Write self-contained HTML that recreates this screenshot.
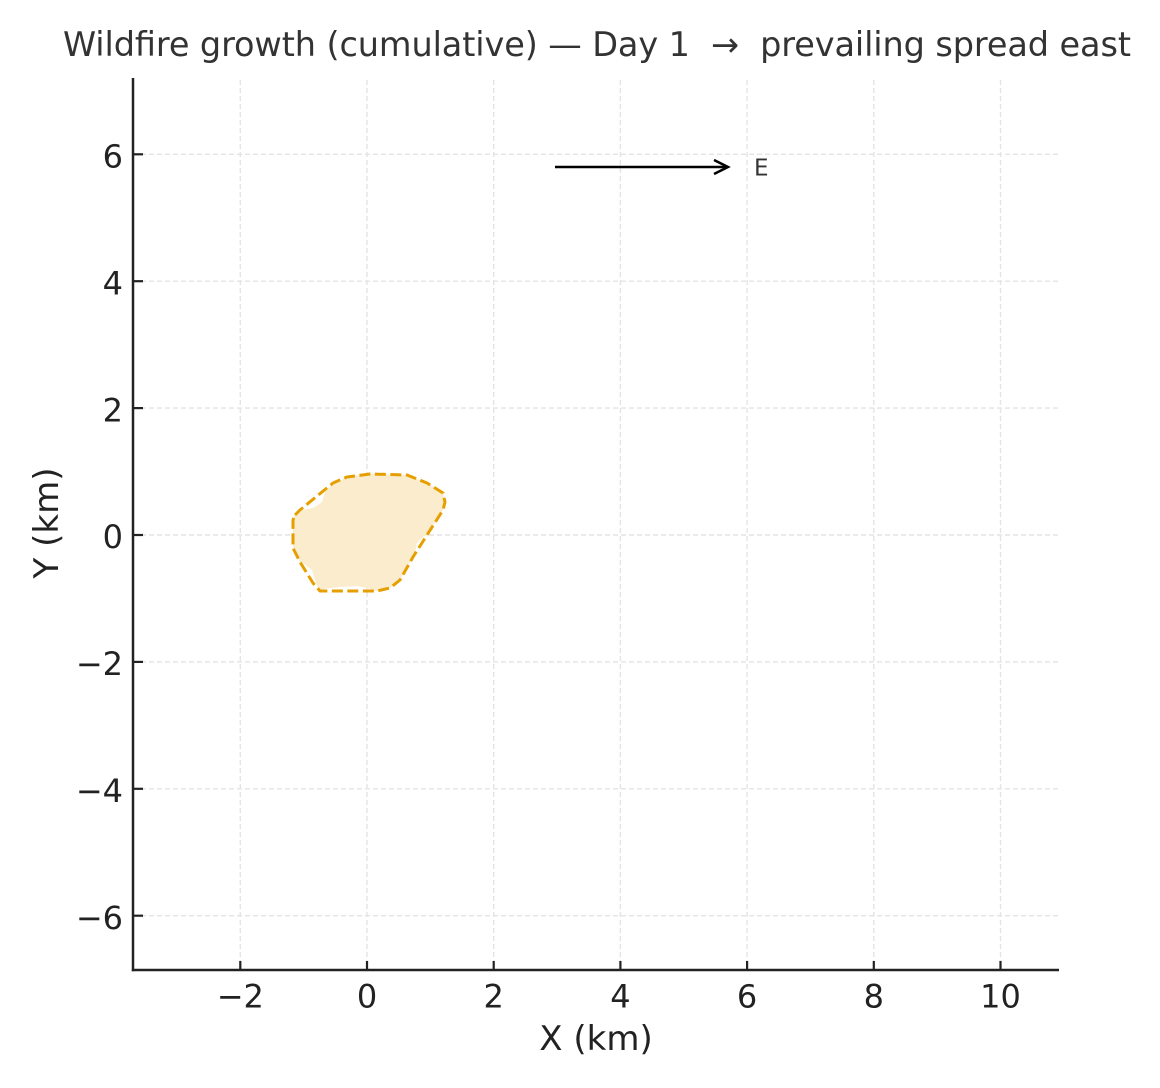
<!DOCTYPE html>
<html><head><meta charset="utf-8"><style>
html,body{margin:0;padding:0;background:#fff;}
svg{display:block;font-family:"DejaVu Sans","Liberation Sans",sans-serif;}
</style></head><body>
<svg width="1160" height="1088" viewBox="0 0 1160 1088" xmlns="http://www.w3.org/2000/svg">
<rect width="1160" height="1088" fill="#ffffff"/>
<!-- grid -->
<g stroke="#e4e4e4" stroke-width="1.4" stroke-dasharray="5,3" fill="none">
<line x1="240.3" y1="80" x2="240.3" y2="970"/>
<line x1="367" y1="80" x2="367" y2="970"/>
<line x1="493.7" y1="80" x2="493.7" y2="970"/>
<line x1="620.4" y1="80" x2="620.4" y2="970"/>
<line x1="747.1" y1="80" x2="747.1" y2="970"/>
<line x1="873.8" y1="80" x2="873.8" y2="970"/>
<line x1="1000.5" y1="80" x2="1000.5" y2="970"/>
<line x1="133" y1="154.3" x2="1058" y2="154.3"/>
<line x1="133" y1="281.2" x2="1058" y2="281.2"/>
<line x1="133" y1="408.1" x2="1058" y2="408.1"/>
<line x1="133" y1="535" x2="1058" y2="535"/>
<line x1="133" y1="661.9" x2="1058" y2="661.9"/>
<line x1="133" y1="788.8" x2="1058" y2="788.8"/>
<line x1="133" y1="915.7" x2="1058" y2="915.7"/>
</g>
<!-- fire fill -->
<polygon fill="rgb(250,236,204)" points="295,515 303,510 313,508 322,502 325,492 333,484 347,477 370,474 407,475 427,483 443,493 445,502 443,510 427,535 423,537 417,543 415,552 413,557 400,580 390,588 377,591 367,588 357,586 340,587 323,589 320,591 318,588 315,580 312,570 303,563 300,562 293,548 293,520"/>
<!-- fire outline -->
<polygon fill="none" stroke="#e69f00" stroke-width="3" stroke-dasharray="11,4.5" stroke-linejoin="round" points="295,515 300,510 333,483 347,477 370,474 407,475 427,483 443,493 445,502 443,510 427,535 413,557 400,580 390,588 377,591 320,591 313,583 300,562 293,548 293,520"/>
<!-- arrow -->
<line x1="555" y1="167" x2="727" y2="167" stroke="#000" stroke-width="2.5"/>
<polyline points="714,160 728,167 714,174" fill="none" stroke="#000" stroke-width="2.5" stroke-linejoin="miter"/>
<text x="754" y="175.5" font-size="23" fill="#333">E</text>
<!-- spines -->
<g stroke="#222" stroke-width="2.5" fill="none">
<line x1="133" y1="78" x2="133" y2="971.2"/>
<line x1="131.8" y1="970" x2="1059" y2="970"/>
</g>
<!-- ticks (inward) -->
<g stroke="#222" stroke-width="2.2">
<line x1="240.3" y1="970" x2="240.3" y2="961"/>
<line x1="367" y1="970" x2="367" y2="961"/>
<line x1="493.7" y1="970" x2="493.7" y2="961"/>
<line x1="620.4" y1="970" x2="620.4" y2="961"/>
<line x1="747.1" y1="970" x2="747.1" y2="961"/>
<line x1="873.8" y1="970" x2="873.8" y2="961"/>
<line x1="1000.5" y1="970" x2="1000.5" y2="961"/>
<line x1="133" y1="154.3" x2="143" y2="154.3"/>
<line x1="133" y1="281.2" x2="143" y2="281.2"/>
<line x1="133" y1="408.1" x2="143" y2="408.1"/>
<line x1="133" y1="535" x2="143" y2="535"/>
<line x1="133" y1="661.9" x2="143" y2="661.9"/>
<line x1="133" y1="788.8" x2="143" y2="788.8"/>
<line x1="133" y1="915.7" x2="143" y2="915.7"/>
</g>
<!-- tick labels -->
<g font-size="32" fill="#222" text-anchor="middle">
<text x="240.3" y="1007.5">−2</text>
<text x="367" y="1007.5">0</text>
<text x="493.7" y="1007.5">2</text>
<text x="620.4" y="1007.5">4</text>
<text x="747.1" y="1007.5">6</text>
<text x="873.8" y="1007.5">8</text>
<text x="1000.5" y="1007.5">10</text>
</g>
<g font-size="32" fill="#222" text-anchor="end">
<text x="123" y="167.5">6</text>
<text x="123" y="294.4">4</text>
<text x="123" y="421.3">2</text>
<text x="123" y="548.2">0</text>
<text x="123" y="675.1">−2</text>
<text x="123" y="802">−4</text>
<text x="123" y="928.9">−6</text>
</g>
<!-- axis labels -->
<text x="596" y="1050" font-size="34" fill="#222" text-anchor="middle">X (km)</text>
<text transform="translate(58,523) rotate(-90)" font-size="34" fill="#222" text-anchor="middle">Y (km)</text>
<!-- title -->
<text x="597" y="56" font-size="33.5" fill="#333" text-anchor="middle" style="white-space:pre" textLength="1068" lengthAdjust="spacing">Wildfire growth (cumulative) — Day 1  →  prevailing spread east</text>
</svg>
</body></html>
